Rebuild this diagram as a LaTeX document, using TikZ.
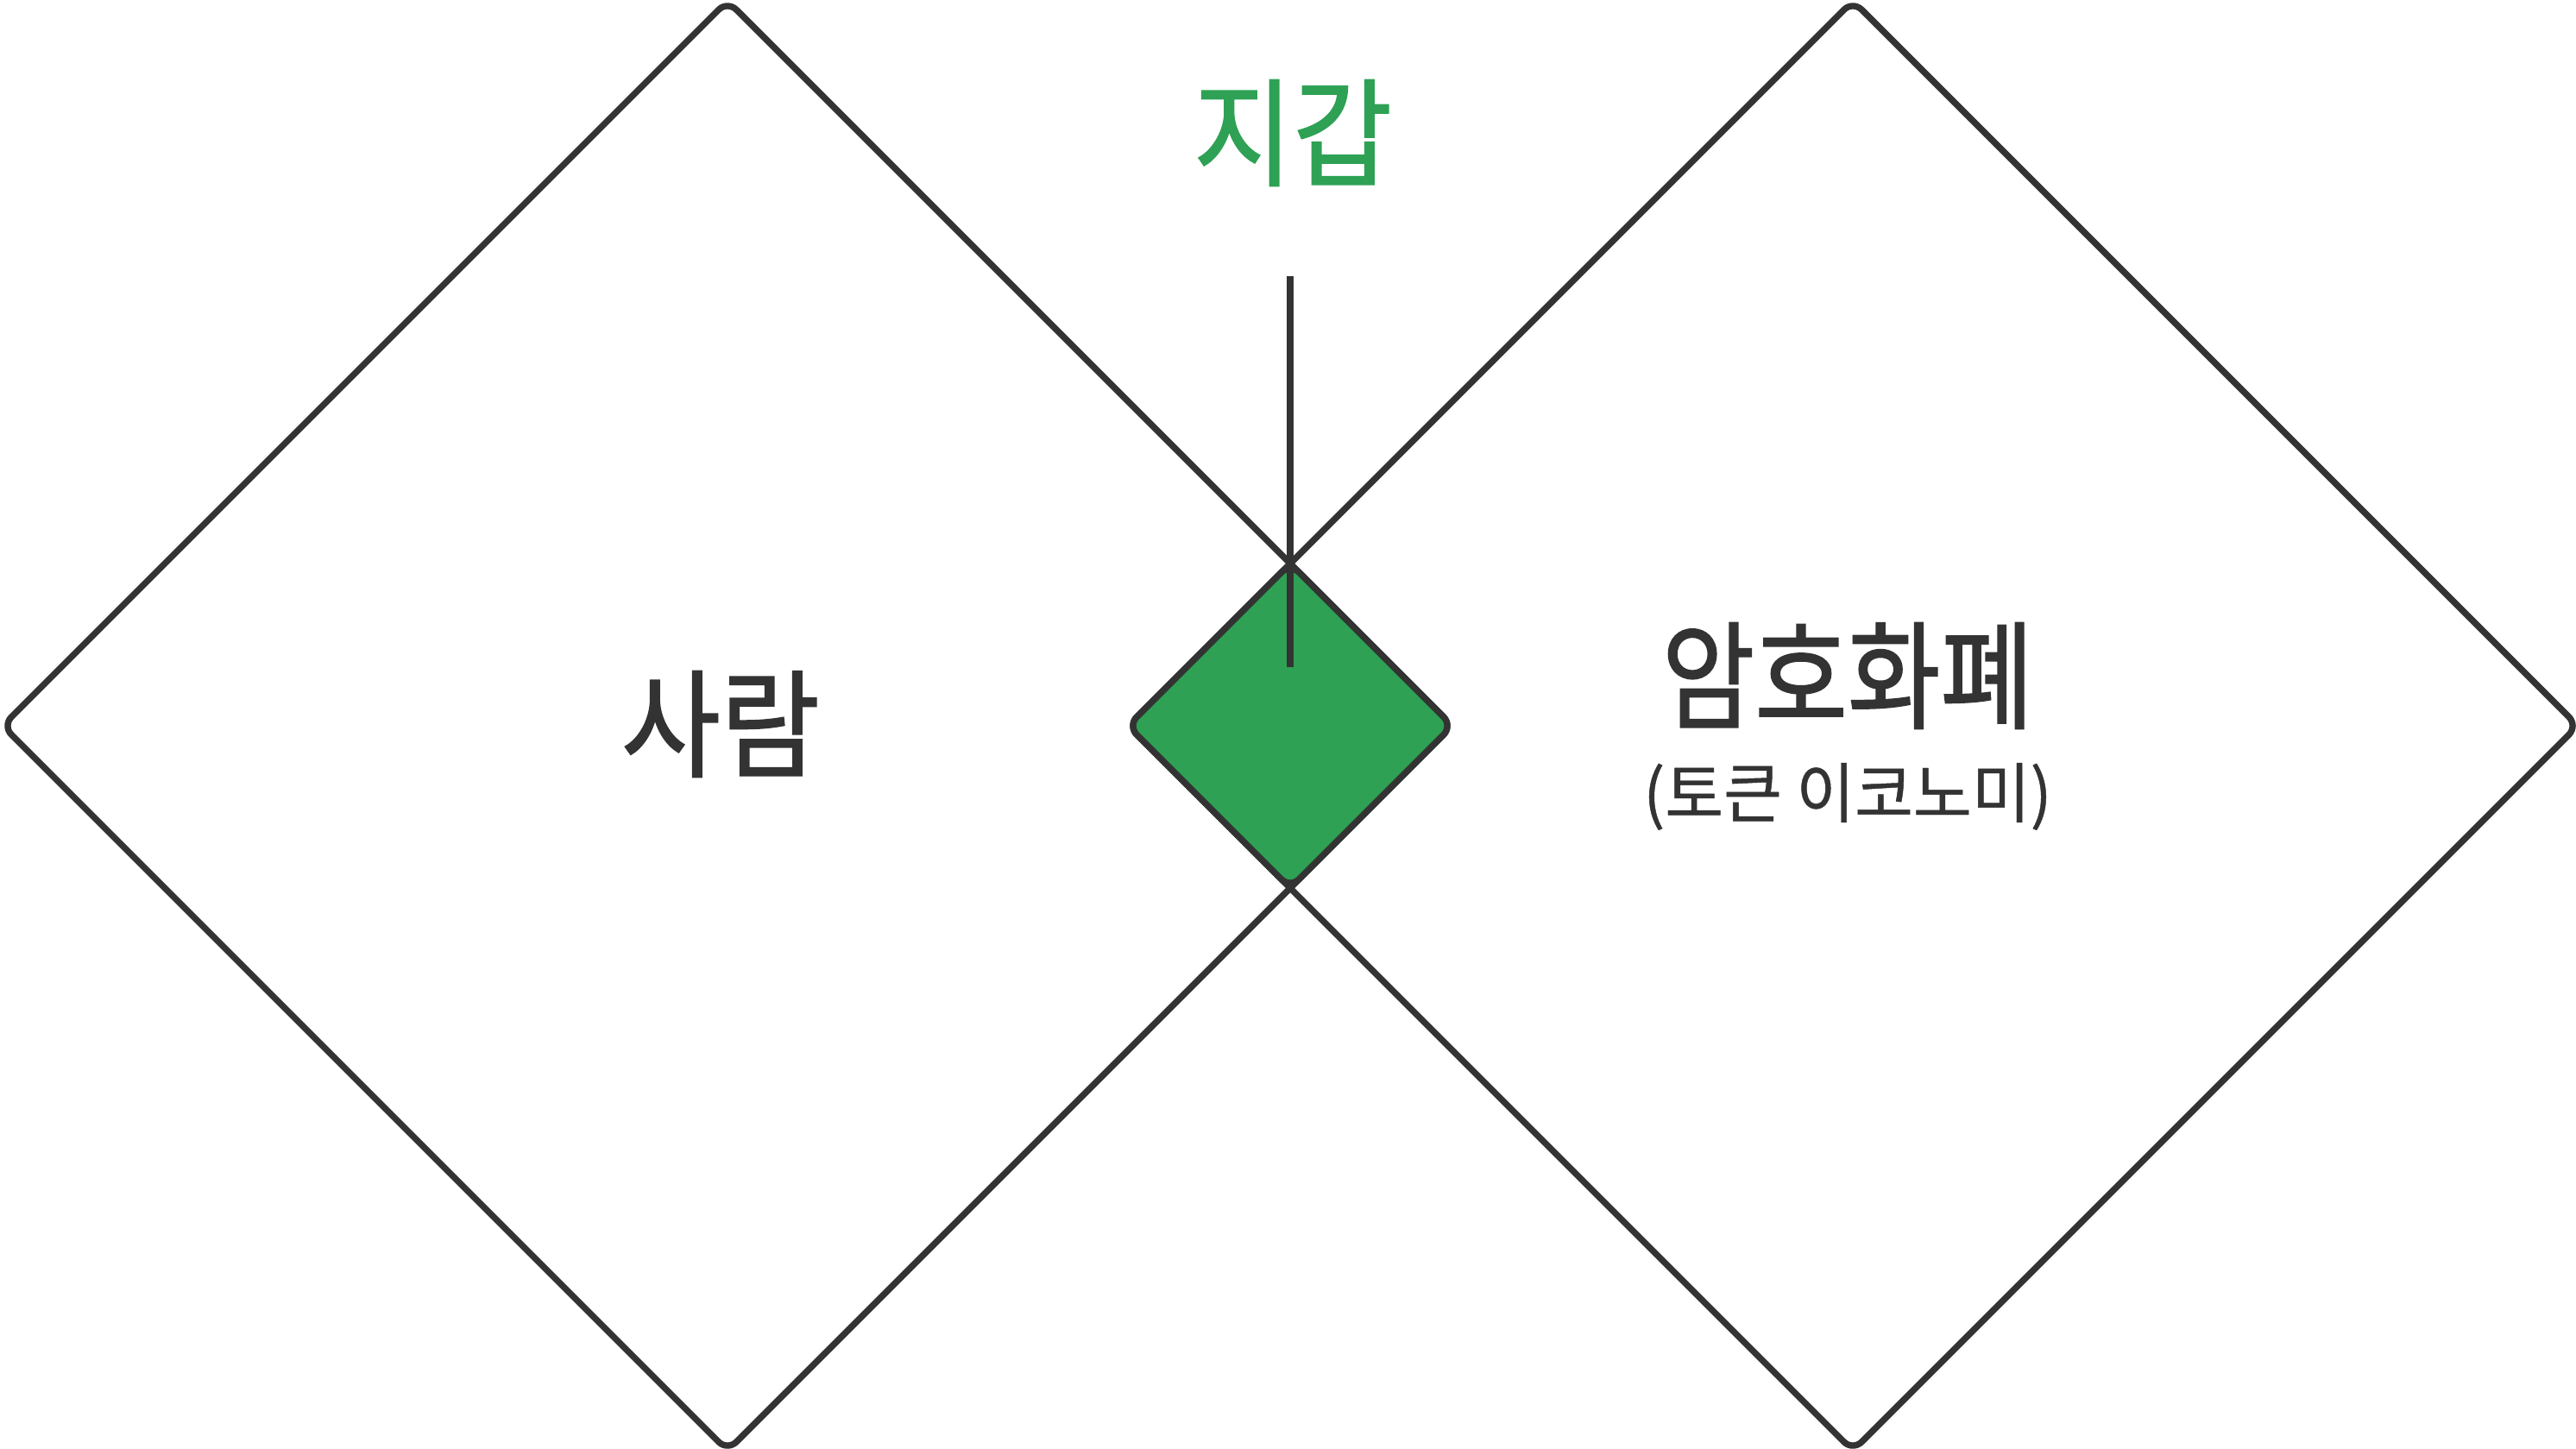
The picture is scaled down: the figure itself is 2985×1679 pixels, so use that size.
\documentclass[tikz,border=0pt]{standalone}
\usepackage{fontspec}
\setmainfont{Noto Sans CJK KR}
\newfontfamily\lblfont[FakeStretch=0.92, FakeBold=1.2]{Noto Sans CJK KR}
\newfontfamily\narrowfont[FakeStretch=0.86, FakeBold=1.2]{Noto Sans CJK KR}
\newfontfamily\subfont[FakeStretch=0.97, FakeBold=0.6]{Noto Sans CJK KR}
\definecolor{edge}{HTML}{333333}
\definecolor{wgreen}{HTML}{2EA154}
\tikzset{
  diam/.style={draw=edge, line width=1.85pt, rounded corners=3.6pt, line join=round},
  gdiam/.style={diam, fill=wgreen},
  stem/.style={draw=edge, line width=1.85pt},
  bigtxt/.style={inner sep=0pt, text=edge, font=\lblfont\fontsize{34pt}{40pt}\selectfont},
  widetxt/.style={inner sep=0pt, text=edge, font=\narrowfont\fontsize{34pt}{40pt}\selectfont},
  smalltxt/.style={inner sep=0pt, text=edge, font=\subfont\fontsize{19pt}{22pt}\selectfont},
  greentxt/.style={inner sep=0pt, text=wgreen, font=\lblfont\fontsize{34pt}{40pt}\selectfont}
}
\begin{document}
\begin{tikzpicture}[x=0.25pt, y=-0.25pt]
  \useasboundingbox (0,0) rectangle (2985,1679);
  % left diamond (person)
  \coordinate (LT) at (843,1);
  \coordinate (LR) at (1683,841);
  \coordinate (LB) at (843,1681);
  \coordinate (LL) at (3,841);
  \draw[diam] (LT) -- (LR) -- (LB) -- (LL) -- cycle;
  % right diamond (crypto)
  \coordinate (RT) at (2147,1);
  \coordinate (RR) at (2987,841);
  \coordinate (RB) at (2147,1681);
  \coordinate (RL) at (1307,841);
  \draw[diam] (RT) -- (RR) -- (RB) -- (RL) -- cycle;
  % overlap diamond (wallet)
  \coordinate (GT) at (1495,653);
  \coordinate (GR) at (1683,841);
  \coordinate (GB) at (1495,1029);
  \coordinate (GL) at (1307,841);
  \draw[gdiam] (GT) -- (GR) -- (GB) -- (GL) -- cycle;
  % pointer line
  \coordinate (stemTop) at (1495,320);
  \coordinate (stemBot) at (1495,773);
  \draw[stem] (stemTop) -- (stemBot);
  % labels
  \node[greentxt] (wallet) at (1498,154) {지갑};
  \node[bigtxt] (person) at (835,839) {사람};
  \node[widetxt] (crypto) at (2141,783) {암호화폐};
  \node[smalltxt] (token) at (2141,923) {(토큰 이코노미)};
\end{tikzpicture}
\end{document}
